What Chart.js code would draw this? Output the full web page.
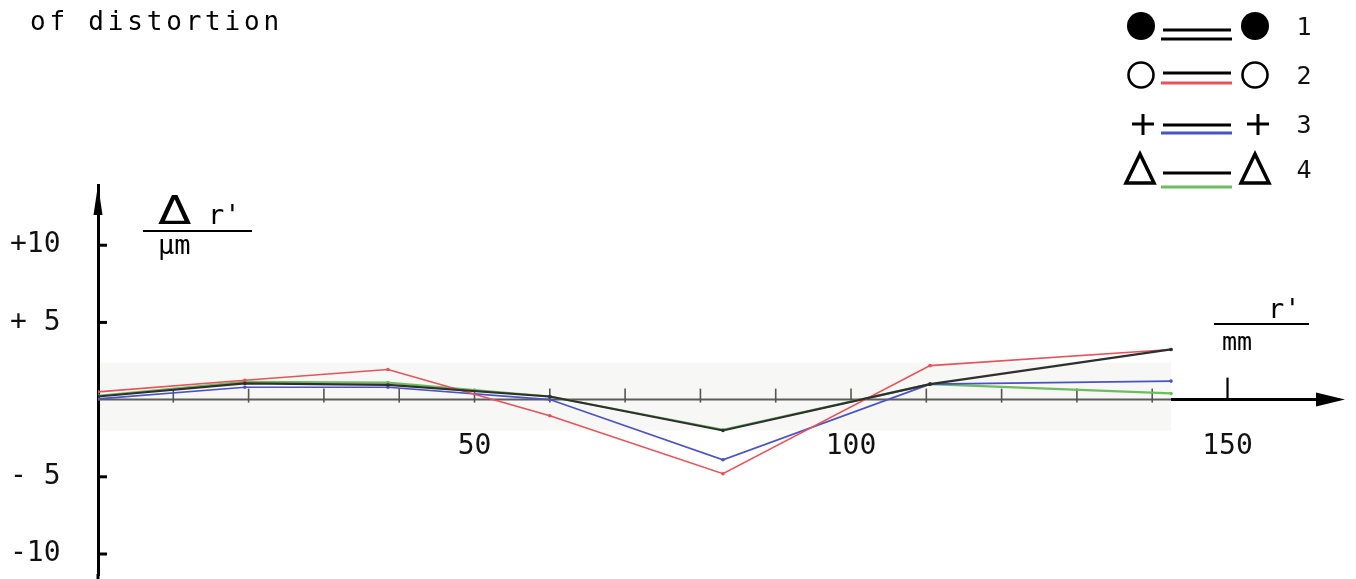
<!DOCTYPE html>
<html><head><meta charset="utf-8">
<script src="https://cdn.jsdelivr.net/npm/chart.js@4"></script>
<style>html,body{margin:0;padding:0;background:#fff;overflow:hidden}canvas{display:block}</style>
</head><body>
<canvas id="c" width="1356" height="579"></canvas>
<script>
// ---- data ----
const radii   = [0, 19.5, 38.5, 60, 83, 110.5, 142.5];          // r' in mm
const series1 = [0.2, 1.05, 0.95, 0.2, -2.0, 1.0, 3.25];        // Δr' in µm
const series2 = [0.5, 1.25, 1.95, -1.05, -4.8, 2.2, 3.25];
const series3 = [0.05, 0.8, 0.8, 0.0, -3.9, 1.0, 1.2];
const series4 = [0.25, 1.15, 1.1, 0.2, -1.95, 1.0, 0.4];
const seriesNames = ['1', '2', '3', '4'];
const xTickValues = [10, 20, 30, 40, 50, 60, 70, 80, 90, 100, 110, 120, 130, 140, 150];
const xLabelValues = [50, 100, 150];
const xLabelTexts = ['50', '100', '150'];
const yTickValues = [10, 5, -5, -10];
const yTickTexts = ['+10', '+ 5', '- 5', '-10'];
const titleText = 'of distortion';
const yTitleSymbol = 'Δ';
const yTitleVar = "r'";
const yTitleUnit = 'μm';
const xTitleVar = "r'";
const xTitleUnit = 'mm';

const MONO = '"DejaVu Sans Mono", monospace';
const colors = ['#2f2f2f', '#e8525a', '#4a52c8', '#6dbd5e'];
const widths = [2.2, 1.6, 1.6, 2.2];

function pts(vals) { return radii.map((r, i) => ({ x: r, y: vals[i] })); }

const deco = {
  id: 'deco',
  beforeDatasetsDraw(chart) {
    const { ctx, scales: { x, y } } = chart;
    const y0 = y.getPixelForValue(0);
    const xa = x.getPixelForValue(0);
    const xe = x.getPixelForValue(radii[radii.length - 1]);
    ctx.save();
    // faint pasted strip
    ctx.fillStyle = '#f7f7f5';
    const sTop = y.getPixelForValue(2.4), sBot = y.getPixelForValue(-2.0);
    ctx.fillRect(xa + 2, sTop, xe - xa - 2, sBot - sTop);
    // grey baseline
    ctx.strokeStyle = '#5c5c5c';
    ctx.lineWidth = 2;
    ctx.beginPath(); ctx.moveTo(xa, y0); ctx.lineTo(xe, y0); ctx.stroke();
    // x tick marks (pointing up)
    x.ticks.forEach(t => {
      const px = x.getPixelForValue(t.value);
      const onBlack = t.value > radii[radii.length - 1];
      ctx.strokeStyle = onBlack ? '#000' : '#555';
      ctx.lineWidth = onBlack ? 2.2 : 1.6;
      ctx.beginPath();
      ctx.moveTo(px, y0 - (onBlack ? 22 : 11));
      ctx.lineTo(px, y0 + (onBlack ? 0 : 3));
      ctx.stroke();
    });
    ctx.restore();
  },
  afterDraw(chart) {
    const { ctx, scales: { x, y }, chartArea } = chart;
    const y0 = y.getPixelForValue(0);
    const xa = x.getPixelForValue(0);
    const xe = x.getPixelForValue(radii[radii.length - 1]);
    const xTip = x.getPixelForValue(x.max) - 3;
    ctx.save();
    ctx.fillStyle = '#000';
    ctx.strokeStyle = '#000';
    // extend y axis line to the bottom edge
    ctx.lineWidth = 3;
    ctx.beginPath(); ctx.moveTo(xa, chartArea.bottom - 1); ctx.lineTo(xa, chart.height); ctx.stroke();
    // black axis continuation with arrow
    ctx.beginPath(); ctx.moveTo(xe, y0); ctx.lineTo(xTip - 20, y0); ctx.stroke();
    ctx.beginPath();
    ctx.moveTo(xTip, y0); ctx.lineTo(xTip - 29, y0 - 7); ctx.lineTo(xTip - 29, y0 + 7); ctx.closePath(); ctx.fill();
    // y axis arrow
    const yTop = chartArea.top;
    ctx.beginPath();
    ctx.moveTo(xa, yTop); ctx.lineTo(xa - 4.5, yTop + 30); ctx.lineTo(xa + 4.5, yTop + 30); ctx.closePath(); ctx.fill();
    // y tick marks pointing right
    ctx.lineWidth = 3;
    yTickValues.forEach(v => {
      const py = y.getPixelForValue(v);
      ctx.beginPath(); ctx.moveTo(xa, py); ctx.lineTo(xa + 9, py); ctx.stroke();
    });

    // title
    ctx.font = '26px ' + MONO;
    ctx.textBaseline = 'alphabetic';
    ctx.textAlign = 'left';
    try { ctx.letterSpacing = '3.8px'; } catch (e) {}
    ctx.fillText(titleText, 30, 30);
    try { ctx.letterSpacing = '0px'; } catch (e) {}

    // y axis title
    ctx.save();
    ctx.translate(158, 224);
    ctx.scale(1.25, 1);
    ctx.font = '39px "DejaVu Sans"';
    ctx.fillText(yTitleSymbol, 0, 0);
    ctx.restore();
    ctx.font = '27px ' + MONO;
    ctx.fillText(yTitleVar, 208, 224);
    ctx.lineWidth = 2;
    ctx.beginPath(); ctx.moveTo(143, 231); ctx.lineTo(252, 231); ctx.stroke();
    ctx.font = '27px ' + MONO;
    ctx.fillText(yTitleUnit, 158, 254);

    // x axis title
    ctx.font = '27px ' + MONO;
    ctx.fillText(xTitleVar, 1268, 318);
    ctx.beginPath(); ctx.moveTo(1214, 324); ctx.lineTo(1309, 324); ctx.stroke();
    ctx.font = '25px ' + MONO;
    ctx.fillText(xTitleUnit, 1222, 350);

    // legend
    const rows = [
      { cy: 26, l1: 30, l2: 39 },
      { cy: 75, l1: 73, l2: 83 },
      { cy: 124, l1: 125, l2: 133 },
      { cy: 169, l1: 173, l2: 187 }
    ];
    const ds = chart.data.datasets;
    rows.forEach((r, i) => {
      const cxL = 1141, cxR = 1255;
      ctx.strokeStyle = '#000';
      ctx.fillStyle = '#000';
      ctx.lineWidth = 3;
      if (i === 0) {
        [cxL, cxR].forEach(cx => { ctx.beginPath(); ctx.arc(cx, r.cy, 14, 0, Math.PI * 2); ctx.fill(); });
      } else if (i === 1) {
        ctx.lineWidth = 2.6;
        [cxL, cxR].forEach(cx => { ctx.beginPath(); ctx.arc(cx, r.cy, 12.5, 0, Math.PI * 2); ctx.stroke(); });
      } else if (i === 2) {
        [cxL + 2, cxR + 3].forEach(cx => {
          ctx.beginPath();
          ctx.moveTo(cx - 11, r.cy); ctx.lineTo(cx + 11, r.cy);
          ctx.moveTo(cx, r.cy - 10); ctx.lineTo(cx, r.cy + 11);
          ctx.stroke();
        });
      } else {
        ctx.lineWidth = 3.5;
        [cxL - 1, cxR].forEach(cx => {
          ctx.beginPath();
          ctx.moveTo(cx, r.cy - 15); ctx.lineTo(cx + 14, r.cy + 14); ctx.lineTo(cx - 14, r.cy + 14); ctx.closePath();
          ctx.stroke();
        });
      }
      // black line
      ctx.lineWidth = 3;
      ctx.strokeStyle = '#000';
      ctx.beginPath(); ctx.moveTo(1163, r.l1); ctx.lineTo(1231, r.l1); ctx.stroke();
      // series coloured line
      ctx.strokeStyle = i === 0 ? '#000' : ds[i].borderColor;
      ctx.beginPath(); ctx.moveTo(1161, r.l2); ctx.lineTo(1232, r.l2); ctx.stroke();
      // number
      ctx.fillStyle = '#111';
      ctx.font = '25px ' + MONO;
      ctx.textAlign = 'center';
      ctx.textBaseline = 'middle';
      ctx.fillText(ds[i].label, 1304, r.cy + 2);
      ctx.textAlign = 'left';
      ctx.textBaseline = 'alphabetic';
    });
    ctx.restore();
  }
};

new Chart(document.getElementById('c'), {
  type: 'line',
  data: {
    datasets: [series1, series2, series3, series4].map((s, i) => ({
      label: seriesNames[i],
      data: pts(s),
      borderColor: colors[i],
      backgroundColor: colors[i],
      borderWidth: widths[i],
      pointRadius: 1.8,
      pointBorderWidth: 0,
      pointBackgroundColor: colors[i],
      tension: 0,
      fill: false
    }))
  },
  options: {
    responsive: false,
    animation: false,
    devicePixelRatio: 1,
    layout: { padding: { left: 10, top: 185, right: 8, bottom: 0 } },
    plugins: { legend: { display: false }, tooltip: { enabled: false }, title: { display: false } },
    scales: {
      x: {
        type: 'linear',
        min: 0,
        max: 166,
        position: { y: 0 },
        border: { display: false },
        grid: { display: false, drawTicks: false },
        afterBuildTicks: axis => { axis.ticks = xTickValues.map(v => ({ value: v })); },
        ticks: {
          autoSkip: false,
          maxRotation: 0,
          padding: 30,
          color: '#111',
          font: { family: 'DejaVu Sans Mono', size: 28 },
          callback: v => { const k = xLabelValues.indexOf(v); return k >= 0 ? xLabelTexts[k] : ''; }
        }
      },
      y: {
        type: 'linear',
        min: -11.36,
        max: 13.9,
        position: 'left',
        border: { display: true, color: '#000', width: 3 },
        grid: { display: true, drawOnChartArea: false, drawTicks: false, color: 'rgba(0,0,0,0)' },
        afterBuildTicks: axis => { axis.ticks = yTickValues.map(v => ({ value: v })); },
        afterFit: axis => { axis.width = 88; axis.paddingTop = 0; axis.paddingBottom = 0; },
        ticks: {
          crossAlign: 'far',
          color: '#111',
          font: { family: 'DejaVu Sans Mono', size: 28 },
          callback: v => { const k = yTickValues.indexOf(v); return k >= 0 ? yTickTexts[k] : ''; }
        }
      }
    }
  },
  plugins: [deco]
});
</script>
</body></html>
